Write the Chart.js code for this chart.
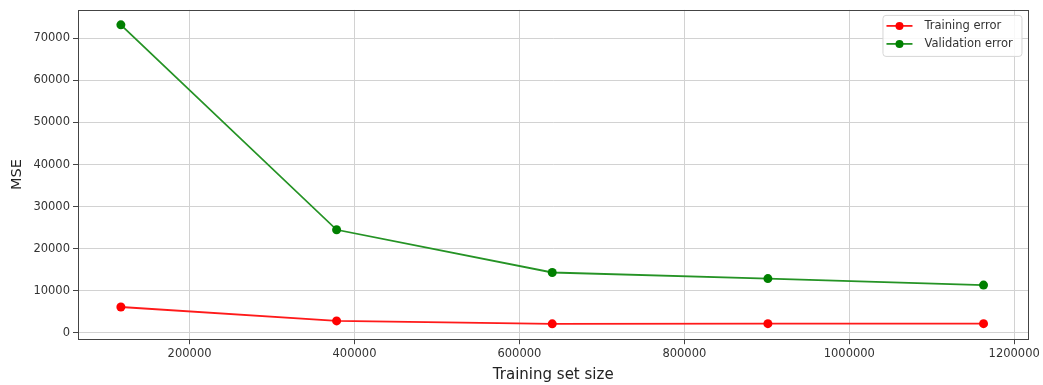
<!DOCTYPE html>
<html>
<head>
<meta charset="utf-8">
<script src="https://cdn.jsdelivr.net/npm/chart.js@4.4.1/dist/chart.umd.min.js"></script>
<style>
  html, body { margin: 0; padding: 0; background: #fff; }
  #wrap { width: 1043px; height: 385px; position: relative; }
</style>
</head>
<body>
<div id="wrap"><canvas id="lc"></canvas></div>
<script>
// ── Data ─────────────────────────────────────────────────────────────────
var trainSizes      = [116700, 378300, 639800, 901300, 1162800];
var trainingError   = [6150, 2850, 2150, 2200, 2200];
var validationError = [73200, 24500, 14350, 12900, 11350];
var xTicks = [200000, 400000, 600000, 800000, 1000000, 1200000];
var yTicks = [0, 10000, 20000, 30000, 40000, 50000, 60000, 70000];

var FONT = "'DejaVu Sans', sans-serif";
var TXT  = '#333333';

function pts(ys) {
    return trainSizes.map(function (x, i) { return { x: x, y: ys[i] }; });
}

// ── Frame round the plot area + matplotlib-style legend ─────────────────
var framePlugin = {
    id: 'frame',
    afterDraw: function (chart) {
        var a = chart.chartArea, c = chart.ctx;
        c.save();
        c.strokeStyle = '#444';
        c.lineWidth = 1;
        c.strokeRect(Math.round(a.left) + 0.5, Math.round(a.top) + 0.5,
                     Math.round(a.right - a.left), Math.round(a.bottom - a.top));

        // legend box
        var bx = a.right - 146, by = a.top + 5, bw = 139, bh = 41;
        c.fillStyle = 'rgba(255,255,255,0.85)';
        c.strokeStyle = '#d6d6d6';
        c.beginPath();
        if (c.roundRect) c.roundRect(bx + 0.5, by + 0.5, bw, bh, 3); else c.rect(bx + 0.5, by + 0.5, bw, bh);
        c.fill();
        c.stroke();

        c.font = '11.5px ' + FONT;
        c.textBaseline = 'middle';
        chart.data.datasets.forEach(function (ds, i) {
            var yy = by + 11 + i * 18;
            c.strokeStyle = ds.borderColor;
            c.lineWidth = 1.8;
            c.beginPath();
            c.moveTo(bx + 4, yy);
            c.lineTo(bx + 30, yy);
            c.stroke();
            c.fillStyle = ds.backgroundColor;
            c.beginPath();
            c.arc(bx + 17, yy, 4, 0, Math.PI * 2);
            c.fill();
            c.fillStyle = TXT;
            c.fillText(ds.label, bx + 42, yy);
        });
        c.restore();
    }
};

new Chart(document.getElementById('lc'), {
    type: 'line',
    data: {
        datasets: [
            {
                label: 'Training error',
                data: pts(trainingError),
                borderColor: '#ff1a1a',
                backgroundColor: '#ff0000',
                borderWidth: 1.8,
                pointRadius: 4.5,
                pointBorderWidth: 0,
                tension: 0
            },
            {
                label: 'Validation error',
                data: pts(validationError),
                borderColor: '#259325',
                backgroundColor: '#008000',
                borderWidth: 1.8,
                pointRadius: 4.5,
                pointBorderWidth: 0,
                tension: 0
            }
        ]
    },
    options: {
        responsive: true,
        maintainAspectRatio: false,
        animation: false,
        layout: { padding: { left: 0, right: 12, top: 4, bottom: 0 } },
        plugins: {
            legend: { display: false },
            tooltip: { enabled: false }
        },
        scales: {
            x: {
                type: 'linear',
                min: 64700,
                max: 1217300,
                afterBuildTicks: function (s) { s.ticks = xTicks.map(function (v) { return { value: v }; }); },
                ticks: {
                    color: TXT,
                    font: { family: FONT, size: 11.5 },
                    maxRotation: 0,
                    padding: 3,
                    callback: function (v) { return String(v); }
                },
                grid: { color: '#d2d2d2', tickColor: '#444', tickLength: 5 },
                border: { display: false },
                title: {
                    display: true,
                    text: 'Training set size',
                    color: '#222',
                    font: { family: FONT, size: 15 },
                    padding: { top: 2, bottom: 1 }
                }
            },
            y: {
                type: 'linear',
                min: -1500,
                max: 76750,
                afterBuildTicks: function (s) { s.ticks = yTicks.map(function (v) { return { value: v }; }); },
                afterFit: function (s) { s.width = 78; },
                ticks: {
                    color: TXT,
                    font: { family: FONT, size: 11.5 },
                    padding: 3,
                    callback: function (v) { return String(v); }
                },
                grid: { color: '#d2d2d2', tickColor: '#444', tickLength: 5 },
                border: { display: false },
                title: {
                    display: true,
                    text: 'MSE',
                    color: '#222',
                    font: { family: FONT, size: 14.5 },
                    padding: { top: 9, bottom: 4 }
                }
            }
        }
    },
    plugins: [framePlugin]
});
</script>
</body>
</html>
